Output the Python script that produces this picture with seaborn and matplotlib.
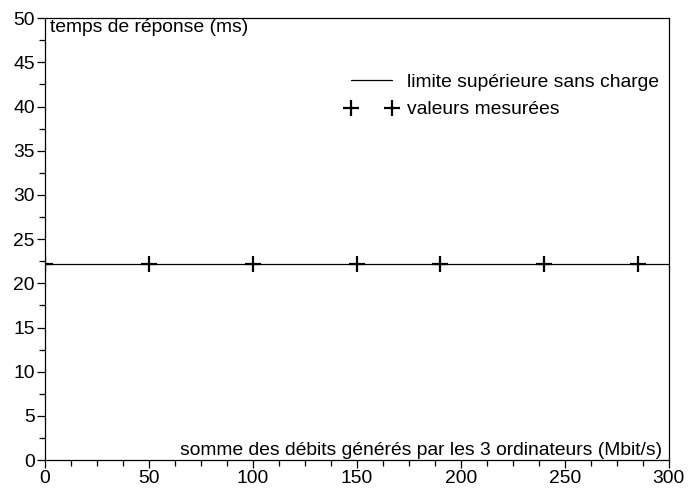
import matplotlib
matplotlib.use("Agg")
import matplotlib.pyplot as plt
import seaborn as sns
import numpy as np
from matplotlib.ticker import MultipleLocator
from matplotlib.legend_handler import HandlerLine2D
from matplotlib.lines import Line2D

sns.set_theme(style="white")
plt.rcParams['font.family'] = ['Liberation Sans', 'DejaVu Sans']
plt.rcParams['text.color'] = 'black'

# data
limit_x = [0, 300]
limit_y = [22.2, 22.2]
measured_x = [0, 50, 100, 150, 190, 240, 285]
measured_y = [22.2, 22.2, 22.2, 22.2, 22.2, 22.2, 22.2]
x_ticks = [0, 50, 100, 150, 200, 250, 300]
y_ticks = [0, 5, 10, 15, 20, 25, 30, 35, 40, 45, 50]

FS = 13.9

fig, ax = plt.subplots(figsize=(6.88, 4.9), dpi=100)
fig.subplots_adjust(left=0.065, right=0.972, top=0.963, bottom=0.061)

sns.lineplot(x=limit_x, y=limit_y, ax=ax, color='black', linewidth=0.9,
             label='limite supérieure sans charge', legend=False)
sns.lineplot(x=measured_x, y=measured_y, ax=ax, color='black', linestyle='',
             marker='+', markersize=12, markeredgewidth=1.6,
             markeredgecolor='black', markerfacecolor='black',
             label='valeurs mesurées', legend=False)

ax.set_xlim(0, 300)
ax.set_ylim(0, 50)
ax.set_xticks(x_ticks)
ax.set_yticks(y_ticks)
ax.xaxis.set_minor_locator(MultipleLocator(12.5))
ax.yaxis.set_minor_locator(MultipleLocator(2.5))
ax.tick_params(axis='both', which='both', direction='out', bottom=True, left=True,
               top=False, right=False, colors='black', labelsize=FS)
ax.tick_params(which='major', length=6, width=0.9, pad=1)
ax.tick_params(which='minor', length=4, width=0.9)
for s in ax.spines.values():
    s.set_color('black')
    s.set_linewidth(0.9)
ax.set_xlabel('')
ax.set_ylabel('')

ax.text(0.008, 0.998, 'temps de réponse (ms)', transform=ax.transAxes,
        ha='left', va='top', fontsize=FS, color='black')
ax.text(0.99, 0.003, 'somme des débits générés par les 3 ordinateurs (Mbit/s)',
        transform=ax.transAxes, ha='right', va='bottom', fontsize=FS, color='black')

handles, labels = ax.get_legend_handles_labels()
leg = ax.legend(handles, labels, loc='upper right', bbox_to_anchor=(0.996, 0.892),
                frameon=False, numpoints=2, handlelength=2.1, handletextpad=0.75,
                fontsize=FS, labelspacing=0.5, borderaxespad=0.0,
                handler_map={Line2D: HandlerLine2D(marker_pad=0.0)})

fig.savefig('out.png', dpi=100)
